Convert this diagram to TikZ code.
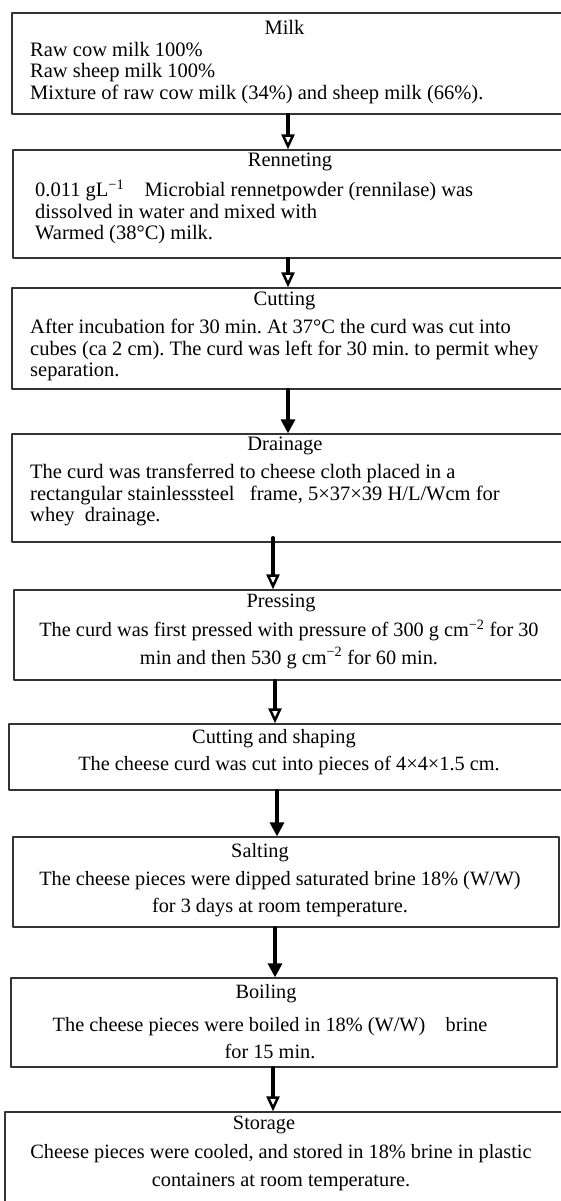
\documentclass[tikz,border=0pt]{standalone}
\usepackage{fontspec}
\setmainfont{Liberation Serif}
\frenchspacing
\usetikzlibrary{arrows.meta}

\begin{document}
\begin{tikzpicture}[
  x=1pt, y=-1pt,
  line cap=round,
  line join=round,
  procbox/.style={draw=black!80, line width=1.3pt, inner sep=0pt},
  uppertext/.style={font=\fontsize{20.5}{21.5}\selectfont, inner sep=0pt},
  lowertext/.style={font=\fontsize{20.3}{27.5}\selectfont, inner sep=0pt, align=center},
  steptitle/.style={text height=0.7em, text depth=0.2em},
  arrfill/.style={-{Triangle[length=14pt,width=14pt]}, line width=3.2pt},
  arropen/.style={-{Triangle[open,length=15pt,width=13pt,line width=2.5pt]}, line width=3.2pt}
]

% Page: 561 x 1201, boxes cut off at its edges
\clip (0,0) rectangle (561,1201);

% --- Boxes (some run past the right and lower edges) ---
\node[procbox, minimum width=568, minimum height=101] (milk) at (296,63.5) {};
\node[procbox, minimum width=567, minimum height=108] (renneting) at (296.5,204) {};
\node[procbox, minimum width=568, minimum height=101] (cutting) at (296,338.5) {};
\node[procbox, minimum width=568, minimum height=108] (drainage) at (296,488) {};
\node[procbox, minimum width=566, minimum height=90] (pressing) at (297,635) {};
\node[procbox, minimum width=571, minimum height=66] (shaping) at (294.5,757) {};
\node[procbox, minimum width=546, minimum height=90] (salting) at (286,882) {};
\node[procbox, minimum width=546, minimum height=89] (boiling) at (284,1022.5) {};
\node[procbox, minimum width=575, minimum height=108] (storage) at (292.5,1166) {};

% --- Upper steps: centred title, body flush left ---

% Milk
\node[uppertext, steptitle] (milktitle) at (284.5,32) {Milk};
\node[uppertext, align=left, anchor=west] (milkbody) at (30,73) {%
  Raw cow milk 100\%\\
  Raw sheep milk 100\%\\
  Mixture of raw cow milk (34\%) and sheep milk (66\%).};

% Renneting
\node[uppertext, steptitle] (rennetingtitle) at (290,164) {Renneting};
\node[uppertext, align=left, anchor=west] (rennetingbody) at (35,212) {%
  0.011 gL\textsuperscript{−1}\quad Microbial rennetpowder (rennilase) was\\
  dissolved in water and mixed with\\
  Warmed (38°C) milk.};

% Cutting
\node[uppertext, steptitle] (cuttingtitle) at (284.5,303) {Cutting};
\node[uppertext, align=left, anchor=west] (cuttingbody) at (30,350) {%
  After incubation for 30 min. At 37°C the curd was cut into\\
  cubes (ca 2 cm). The curd was left for 30 min. to permit whey\\
  separation.};

% Drainage
\node[uppertext, steptitle] (drainagetitle) at (285,448) {Drainage};
\node[uppertext, align=left, anchor=west] (drainagebody) at (30,495) {%
  The curd was transferred to cheese cloth placed in a\\
  rectangular stainlesssteel\enspace\ frame, 5×37×39 H/L/Wcm for\\
  whey\ \ drainage.};

% --- Lower steps: centred lines ---

% Pressing
\node[lowertext, steptitle] (pressingtitle) at (281,605) {Pressing};
\node[lowertext] (pressingbody) at (289,644) {%
  The curd was first pressed with pressure of 300 g cm\textsuperscript{−2} for 30\\
  min and then 530 g cm\textsuperscript{−2} for 60 min.};

% Cutting and shaping
\node[lowertext, steptitle] (shapingtitle) at (274,741) {Cutting and shaping};
\node[lowertext, steptitle] (shapingbody) at (289,768) {%
  The cheese curd was cut into pieces of 4×4×1.5 cm.};

% Salting
\node[lowertext, steptitle] (saltingtitle) at (260,855) {Salting};
\node[lowertext] (saltingbody) at (280,894) {%
  The cheese pieces were dipped saturated brine 18\% (W/W)\\
  for 3 days at room temperature.};

% Boiling
\node[lowertext, steptitle] (boilingtitle) at (266,996) {Boiling};
\node[lowertext] (boilingbody) at (270,1038) {%
  The cheese pieces were boiled in 18\% (W/W)\quad brine\\
  for 15 min.};

% Storage
\node[lowertext, steptitle] (storagetitle) at (264,1127) {Storage};
\node[lowertext] (storagebody) at (281,1167.5) {%
  Cheese pieces were cooled, and stored in 18\% brine in plastic\\
  containers at room temperature.};

% --- Arrows between the steps ---
\draw[arropen] ([xshift=-8pt]milk.south) -- ([xshift=-8pt]milk.south |- renneting.north);
\draw[arropen] ([xshift=-8.5pt]renneting.south) -- ([xshift=-8.5pt]renneting.south |- cutting.north);
\draw[arrfill] ([xshift=-8pt]cutting.south) -- ([xshift=-8pt]cutting.south |- drainage.north);
\draw[arropen] ([xshift=-23pt,yshift=5pt]drainage.south) -- ([xshift=-23pt]drainage.south |- pressing.north);
\draw[arropen] ([xshift=-22pt]pressing.south) -- ([xshift=-22pt]pressing.south |- shaping.north);
\draw[arrfill] ([xshift=-17.5pt]shaping.south) -- ([xshift=-17.5pt]shaping.south |- salting.north);
\draw[arrfill] ([xshift=-11pt]salting.south) -- ([xshift=-11pt]salting.south |- boiling.north);
\draw[arropen] ([xshift=-11pt]boiling.south) -- ([xshift=-11pt]boiling.south |- storage.north);

\end{tikzpicture}
\end{document}
